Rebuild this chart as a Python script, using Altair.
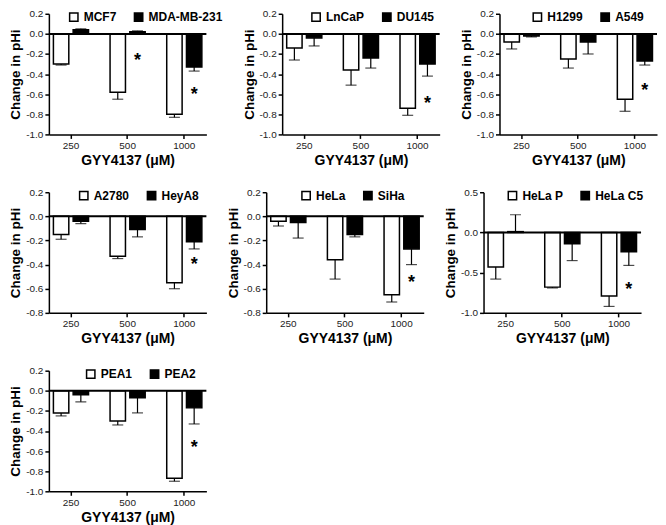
import altair as alt
import pandas as pd

doses = ["250", "500", "1000"]

# Panel 1
p1_series = ["MCF7", "MDA-MB-231"]
p1_open = [-0.30, -0.58, -0.80]
p1_open_err = [0.01, 0.07, 0.03]
p1_solid = [0.04, 0.02, -0.33]
p1_solid_err = [0.01, 0.01, 0.04]
p1_star = [None, -0.23, -0.57]
p1_ticks = [-1.0, -0.8, -0.6, -0.4, -0.2, 0.0, 0.2]

# Panel 2
p2_series = ["LnCaP", "DU145"]
p2_open = [-0.14, -0.36, -0.74]
p2_open_err = [0.12, 0.15, 0.07]
p2_solid = [-0.04, -0.24, -0.30]
p2_solid_err = [0.08, 0.10, 0.12]
p2_star = [None, None, -0.66]
p2_ticks = [-1.0, -0.8, -0.6, -0.4, -0.2, 0.0, 0.2]

# Panel 3
p3_series = ["H1299", "A549"]
p3_open = [-0.08, -0.25, -0.65]
p3_open_err = [0.07, 0.09, 0.12]
p3_solid = [-0.02, -0.08, -0.27]
p3_solid_err = [0.01, 0.12, 0.04]
p3_star = [None, None, -0.53]
p3_ticks = [-1.0, -0.8, -0.6, -0.4, -0.2, 0.0, 0.2]

# Panel 4
p4_series = ["A2780", "HeyA8"]
p4_open = [-0.15, -0.33, -0.55]
p4_open_err = [0.04, 0.02, 0.05]
p4_solid = [-0.04, -0.11, -0.21]
p4_solid_err = [0.02, 0.06, 0.06]
p4_star = [None, None, -0.37]
p4_ticks = [-0.8, -0.6, -0.4, -0.2, 0.0, 0.2]

# Panel 5
p5_series = ["HeLa", "SiHa"]
p5_open = [-0.04, -0.36, -0.65]
p5_open_err = [0.04, 0.16, 0.06]
p5_solid = [-0.05, -0.15, -0.27]
p5_solid_err = [0.13, 0.02, 0.13]
p5_star = [None, None, -0.52]
p5_ticks = [-0.8, -0.6, -0.4, -0.2, 0.0, 0.2]

# Panel 6
p6_series = ["HeLa P", "HeLa C5"]
p6_open = [-0.43, -0.68, -0.79]
p6_open_err = [0.15, 0.01, 0.13]
p6_solid = [0.01, -0.14, -0.24]
p6_solid_err = [0.21, 0.21, 0.17]
p6_star = [None, None, -0.67]
p6_ticks = [-1.0, -0.5, 0.0, 0.5]

# Panel 7
p7_series = ["PEA1", "PEA2"]
p7_open = [-0.22, -0.30, -0.87]
p7_open_err = [0.03, 0.04, 0.03]
p7_solid = [-0.04, -0.07, -0.17]
p7_solid_err = [0.07, 0.15, 0.16]
p7_star = [None, None, -0.53]
p7_ticks = [-1.0, -0.8, -0.6, -0.4, -0.2, 0.0, 0.2]

FONT = "Liberation Sans"
W, H = 158, 121


def panel(series, open_v, open_e, solid_v, solid_e, stars, ticks, lx):
    rows = []
    for i, d in enumerate(doses):
        for s, v, e in [(series[0], open_v[i], open_e[i]), (series[1], solid_v[i], solid_e[i])]:
            end = v - e if v < 0 else v + e
            rows.append({"dose": d, "series": s, "value": v, "end": end})
    df = pd.DataFrame(rows)
    star_df = pd.DataFrame(
        [{"dose": d, "series": series[1], "y": y} for d, y in zip(doses, stars) if y is not None]
    )
    domain = [ticks[0], ticks[-1]]
    x = alt.X(
        "dose:N",
        sort=doses,
        scale=alt.Scale(paddingInner=0.38, paddingOuter=0.08),
        axis=alt.Axis(title="GYY4137 (μM)", labelAngle=0, titleFontSize=14),
    )
    xo = alt.XOffset("series:N", sort=series, scale=alt.Scale(paddingInner=0.22))
    yscale = alt.Scale(domain=domain, nice=False)
    yaxis = alt.Axis(
        values=ticks,
        tickCount=len(ticks),
        labelOverlap=False,
        labelExpr="replace(format(datum.value, '.1f'), '\u2212', '-')",
        title="Change in pHi",
    )
    base = alt.Chart(df)
    bars = base.mark_bar(stroke="black", strokeWidth=1.5).encode(
        x=x,
        xOffset=xo,
        y=alt.Y("value:Q", scale=yscale, axis=yaxis),
        y2=alt.datum(0),
        color=alt.Color(
            "series:N",
            sort=series,
            scale=alt.Scale(domain=series, range=["white", "black"]),
            legend=alt.Legend(
                orient="none",
                legendX=lx,
                legendY=-3,
                direction="horizontal",
                title=None,
                symbolType="square",
                symbolSize=70,
                symbolStrokeColor="black",
                symbolStrokeWidth=1.5,
                labelFont=FONT,
                labelFontSize=12,
                labelFontWeight="bold",
                labelColor="black",
                columnPadding=14,
            ),
        ),
    )
    err = base.mark_rule(color="black", strokeWidth=1.2).encode(
        x=x, xOffset=xo, y=alt.Y("value:Q", axis=yaxis), y2="end:Q"
    )
    cap = base.mark_tick(color="black", orient="horizontal", size=11, thickness=1.2).encode(
        x=x, xOffset=xo, y=alt.Y("end:Q", axis=yaxis)
    )
    zero = alt.Chart(pd.DataFrame({"z": [0.0]})).mark_rule(color="black", strokeWidth=2).encode(
        y=alt.Y("z:Q", axis=yaxis)
    )
    star = alt.Chart(star_df).mark_text(
        text="*", fontSize=18, fontWeight="bold", font=FONT, color="black", dy=4
    ).encode(x=x, xOffset=xo, y=alt.Y("y:Q", axis=yaxis))
    return alt.layer(bars, err, cap, zero, star).properties(width=W, height=H)


c1 = panel(p1_series, p1_open, p1_open_err, p1_solid, p1_solid_err, p1_star, p1_ticks, 19)
c2 = panel(p2_series, p2_open, p2_open_err, p2_solid, p2_solid_err, p2_star, p2_ticks, 28)
c3 = panel(p3_series, p3_open, p3_open_err, p3_solid, p3_solid_err, p3_star, p3_ticks, 32)
c4 = panel(p4_series, p4_open, p4_open_err, p4_solid, p4_solid_err, p4_star, p4_ticks, 29)
c5 = panel(p5_series, p5_open, p5_open_err, p5_solid, p5_solid_err, p5_star, p5_ticks, 34)
c6 = panel(p6_series, p6_open, p6_open_err, p6_solid, p6_solid_err, p6_star, p6_ticks, 23)
c7 = panel(p7_series, p7_open, p7_open_err, p7_solid, p7_solid_err, p7_star, p7_ticks, 36)


def row(*charts):
    return (
        alt.hconcat(*charts, spacing=18)
        .resolve_scale(color="independent", xOffset="independent", x="independent", y="independent")
        .resolve_legend(color="independent")
    )


chart = (
    alt.vconcat(row(c1, c2, c3), row(c4, c5, c6), row(c7), spacing=20)
    .resolve_scale(color="independent", xOffset="independent", x="independent", y="independent")
    .resolve_legend(color="independent")
    .properties(padding=0, background="white")
    .configure_view(stroke=None)
    .configure_axis(
        grid=False,
        domainColor="black",
        domainWidth=1.5,
        tickColor="black",
        tickWidth=1.5,
        tickSize=4,
        labelColor="#222",
        titleColor="black",
        labelFont=FONT,
        titleFont=FONT,
        labelFontSize=10,
        titleFontSize=13.5,
        titleFontWeight="bold",
        titlePadding=3,
    )
)

chart.save("out.html", embed_options={"renderer": "svg", "actions": False})
